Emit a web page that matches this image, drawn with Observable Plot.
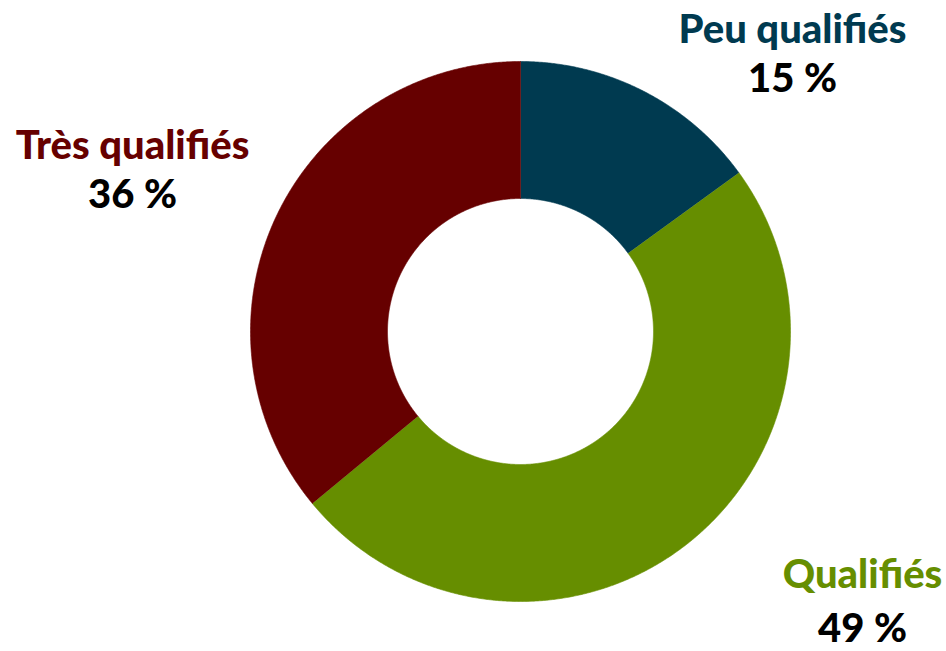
<!DOCTYPE html>
<html>
<head>
<meta charset="utf-8">
<script src="https://cdn.jsdelivr.net/npm/d3@7"></script>
<script src="https://cdn.jsdelivr.net/npm/@observablehq/plot@0.6"></script>
<style>
  html, body { margin: 0; padding: 0; background: #ffffff; }
  #chart svg { display: block; }
</style>
</head>
<body>
<div id="chart"></div>
<script>
// ---- Data ----
const categories = ["Peu qualifiés", "Qualifiés", "Très qualifiés"];
const shares = [15, 49, 36];
const valueLabels = ["15 %", "49 %", "36 %"];
const colors = ["#003a50", "#668e00", "#660000"];

// ---- Layout (pixels) ----
const W = 946, H = 651;
const cx = 520, cy = 331;
const R = 270, r = 133;
// label anchor points (centre x, baseline y of name, baseline y of value)
const labelLayout = [
  {x: 792, yName: 42, yValue: 91},
  {x: 862, yName: 587, yValue: 641},
  {x: 132, yName: 158, yValue: 207}
];

const data = categories.map((c, i) => ({name: c, value: shares[i], label: valueLabels[i]}));

const pie = d3.pie().value(d => d.value).sort(null)(data);

// build ring polygons from pie angles (angle 0 = top, clockwise)
const pts = [];
for (const a of pie) {
  const n = Math.max(8, Math.ceil((a.endAngle - a.startAngle) / 0.005));
  for (let k = 0; k <= n; k++) {
    const t = a.startAngle + (a.endAngle - a.startAngle) * k / n;
    pts.push({name: a.data.name, x: R * Math.sin(t), y: R * Math.cos(t)});
  }
  for (let k = n; k >= 0; k--) {
    const t = a.startAngle + (a.endAngle - a.startAngle) * k / n;
    pts.push({name: a.data.name, x: r * Math.sin(t), y: r * Math.cos(t)});
  }
}

const labels = data.map((d, i) => ({
  name: d.name, label: d.label,
  x: labelLayout[i].x - cx,
  yName: cy - labelLayout[i].yName,
  yValue: cy - labelLayout[i].yValue
}));

const chart = Plot.plot({
  width: W, height: H,
  margin: 0,
  style: {background: "#ffffff", fontFamily: "Lato, 'Open Sans', sans-serif"},
  x: {domain: [-cx, W - cx], axis: null},
  y: {domain: [cy - H, cy], axis: null},
  color: {domain: categories, range: colors},
  marks: [
    Plot.line(pts, {x: "x", y: "y", z: "name", fill: "name", stroke: "name", strokeWidth: 0.6, curve: "linear"}),
    Plot.text(labels, {x: "x", y: "yName", text: "name", fill: "name", fontSize: 40, fontWeight: 900, textAnchor: "middle", lineAnchor: "bottom"}),
    Plot.text(labels, {x: "x", y: "yValue", text: "label", fill: "#000000", fontSize: 40, fontWeight: 900, textAnchor: "middle", lineAnchor: "bottom"})
  ]
});
document.getElementById("chart").appendChild(chart);
</script>
</body>
</html>
